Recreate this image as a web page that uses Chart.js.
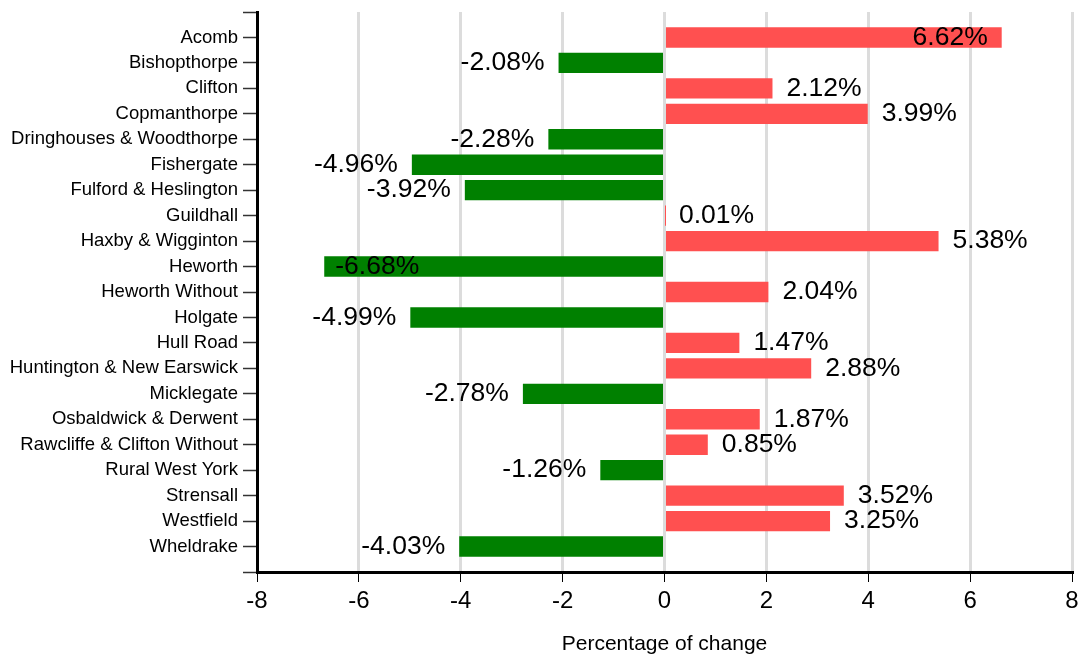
<!DOCTYPE html>
<html>
<head>
<meta charset="utf-8">
<script src="https://cdn.jsdelivr.net/npm/chart.js@4"></script>
<style>
  body { margin: 0; background: #fff; }
</style>
</head>
<body>
<canvas id="chart" width="1078" height="657"></canvas>
<script>
// data, top to bottom
const wards = ['Acomb', 'Bishopthorpe', 'Clifton', 'Copmanthorpe', 'Dringhouses & Woodthorpe',
    'Fishergate', 'Fulford & Heslington', 'Guildhall', 'Haxby & Wigginton', 'Heworth',
    'Heworth Without', 'Holgate', 'Hull Road', 'Huntington & New Earswick', 'Micklegate',
    'Osbaldwick & Derwent', 'Rawcliffe & Clifton Without', 'Rural West York', 'Strensall',
    'Westfield', 'Wheldrake'];
const change = [6.62, -2.08, 2.12, 3.99, -2.28, -4.96, -3.92, 0.01, 5.38, -6.68,
    2.04, -4.99, 1.47, 2.88, -2.78, 1.87, 0.85, -1.26, 3.52, 3.25, -4.03];
const xTicks = [-8, -6, -4, -2, 0, 2, 4, 6, 8];

const FONT = "'Liberation Sans', Arial, sans-serif";

// empty slots above and below so the axis runs past the first and last bar
const labels = [''].concat(wards, ['']);
const values = [null].concat(change, [null]);

const valueLabels = {
    id: 'valueLabels',
    afterDatasetsDraw(chart) {
        const ctx = chart.ctx;
        const area = chart.chartArea;
        const meta = chart.getDatasetMeta(0);
        ctx.save();
        ctx.font = '26.5px ' + FONT;
        ctx.fillStyle = '#000';
        ctx.textBaseline = 'middle';
        meta.data.forEach((bar, i) => {
            const v = values[i];
            if (v === null) return;
            const txt = v.toFixed(2) + '%';
            const w = ctx.measureText(txt).width;
            if (v >= 0) {
                if (bar.x + 14 + w > area.right) {
                    ctx.textAlign = 'right';
                    ctx.fillText(txt, bar.x - 14, bar.y);
                } else {
                    ctx.textAlign = 'left';
                    ctx.fillText(txt, bar.x + 14, bar.y);
                }
            } else {
                if (bar.x - 14 - w < area.left) {
                    ctx.textAlign = 'left';
                    ctx.fillText(txt, bar.x + 11, bar.y);
                } else {
                    ctx.textAlign = 'right';
                    ctx.fillText(txt, bar.x - 14, bar.y);
                }
            }
        });
        ctx.restore();
    }
};

new Chart(document.getElementById('chart'), {
    type: 'bar',
    data: {
        labels: labels,
        datasets: [{
            data: values,
            backgroundColor: values.map(v => v !== null && v < 0 ? '#008000' : '#ff5050'),
            barPercentage: 0.8,
            categoryPercentage: 1
        }]
    },
    options: {
        indexAxis: 'y',
        responsive: false,
        animation: false,
        layout: { padding: { top: 12, right: 6, left: 0, bottom: 0 } },
        plugins: {
            legend: { display: false },
            tooltip: { enabled: false }
        },
        scales: {
            x: {
                min: -8,
                max: 8,
                afterBuildTicks: (scale) => { scale.ticks = xTicks.map(v => ({ value: v })); },
                afterFit: (scale) => {
                    scale.height = 85;
                    scale.paddingLeft = 0;
                    scale.paddingRight = 0;
                },
                grid: {
                    color: '#dcdcdc',
                    lineWidth: 3,
                    tickColor: '#000',
                    tickWidth: 1,
                    tickLength: 10
                },
                border: { color: '#000', width: 3 },
                ticks: {
                    color: '#000',
                    padding: 5,
                    font: { family: FONT, size: 24 }
                },
                title: {
                    display: true,
                    text: 'Percentage of change',
                    color: '#000',
                    font: { family: FONT, size: 21 },
                    padding: { top: 0, bottom: 0 }
                }
            },
            y: {
                offset: false,
                afterFit: (scale) => {
                    scale.width = 257;
                    scale.paddingTop = 0;
                    scale.paddingBottom = 0;
                },
                grid: {
                    offset: false,
                    drawOnChartArea: false,
                    tickColor: '#333',
                    tickWidth: 1.5,
                    tickLength: 14
                },
                border: { color: '#000', width: 3 },
                ticks: {
                    autoSkip: false,
                    color: '#000',
                    padding: 5,
                    font: { family: FONT, size: 18.5 }
                }
            }
        }
    },
    plugins: [valueLabels]
});
</script>
</body>
</html>
